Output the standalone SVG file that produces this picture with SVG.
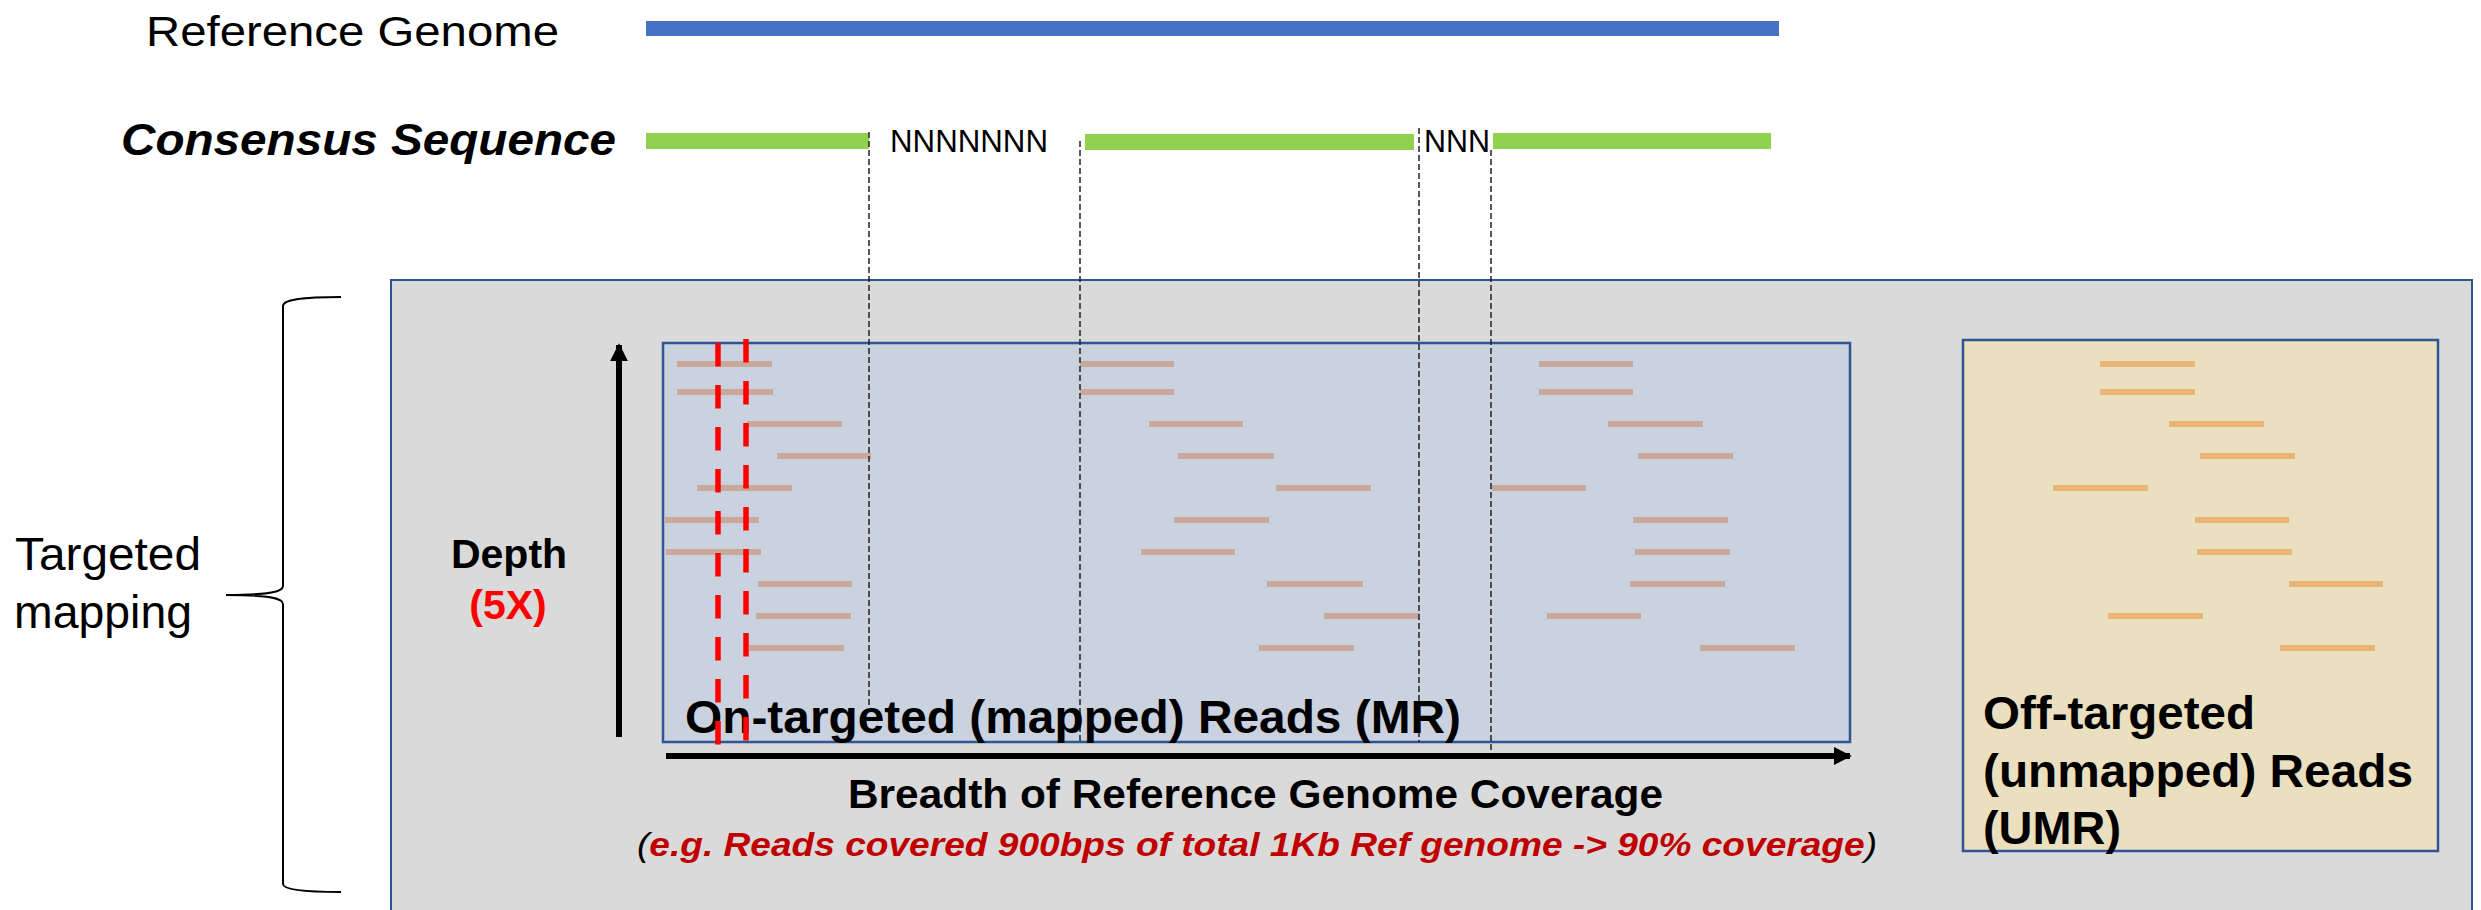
<svg xmlns="http://www.w3.org/2000/svg" width="2481" height="910" viewBox="0 0 2481 910">
<defs>
<style>
.t{font-family:"Liberation Sans",Arial,sans-serif;fill:#000}
.b{font-weight:bold}
.rd{stroke:#C8A99B;stroke-width:6}
.ry{stroke:#E8B478;stroke-width:6}
.dl{stroke:#222;stroke-width:1.5;stroke-dasharray:6 3;fill:none}
.rdash{stroke:#FF0000;stroke-width:5.5;stroke-dasharray:23.5 18.5;fill:none}
</style>
<marker id="ah" viewBox="0 0 10 10" refX="9" refY="5" markerWidth="3" markerHeight="3" orient="auto" markerUnits="strokeWidth">
<path d="M0,0 L10,5 L0,10 Z" fill="#000"/>
</marker>
</defs>
<rect x="0" y="0" width="2481" height="910" fill="#FFFFFF"/>

<g id="reference-genome">
<text class="t" x="146" y="46" font-size="43" textLength="413" lengthAdjust="spacingAndGlyphs">Reference Genome</text>
<rect x="646" y="21" width="1133" height="15" fill="#4472C4"/>
</g>

<g id="consensus-sequence">
<text class="t b" x="121" y="155" font-size="45" font-style="italic" textLength="495" lengthAdjust="spacingAndGlyphs">Consensus Sequence</text>
<rect x="646" y="133" width="223" height="16" fill="#92D050"/>
<rect x="1085" y="134" width="329" height="16" fill="#92D050"/>
<rect x="1493" y="133" width="278" height="16" fill="#92D050"/>
<text class="t" x="890" y="152" font-size="31" textLength="158" lengthAdjust="spacingAndGlyphs">NNNNNNN</text>
<text class="t" x="1424" y="152" font-size="31" textLength="66" lengthAdjust="spacingAndGlyphs">NNN</text>
</g>

<g id="targeted-mapping-label">
<path d="M341,297 C300,297 283,300 283,306 L283,586 C283,592 268,595 226,595 C268,595 283,598 283,604 L283,884 C283,889 300,892 341,892" fill="none" stroke="#000" stroke-width="2"/>
<text class="t" x="15" y="570" font-size="46" textLength="186" lengthAdjust="spacingAndGlyphs">Targeted</text>
<text class="t" x="14" y="628" font-size="46" textLength="178" lengthAdjust="spacingAndGlyphs">mapping</text>
</g>

<g id="mapping-panel">
<rect x="391" y="280" width="2081" height="640" fill="#DADADA" stroke="#2F5597" stroke-width="2"/>
</g>

<g id="mapped-reads">
<rect x="663" y="343" width="1187" height="399" fill="#CAD2DF" stroke="#2F5597" stroke-width="2.5"/>
<line class="rd" x1="677" y1="364" x2="772" y2="364"/>
<line class="rd" x1="677" y1="392" x2="773" y2="392"/>
<line class="rd" x1="747" y1="424" x2="842" y2="424"/>
<line class="rd" x1="777" y1="456" x2="871" y2="456"/>
<line class="rd" x1="697" y1="488" x2="792" y2="488"/>
<line class="rd" x1="665" y1="520" x2="759" y2="520"/>
<line class="rd" x1="666" y1="552" x2="761" y2="552"/>
<line class="rd" x1="758" y1="584" x2="852" y2="584"/>
<line class="rd" x1="756" y1="616" x2="851" y2="616"/>
<line class="rd" x1="749" y1="648" x2="844" y2="648"/>
<line class="rd" x1="1080" y1="364" x2="1174" y2="364"/>
<line class="rd" x1="1080" y1="392" x2="1174" y2="392"/>
<line class="rd" x1="1149" y1="424" x2="1243" y2="424"/>
<line class="rd" x1="1178" y1="456" x2="1274" y2="456"/>
<line class="rd" x1="1276" y1="488" x2="1371" y2="488"/>
<line class="rd" x1="1174" y1="520" x2="1269" y2="520"/>
<line class="rd" x1="1141" y1="552" x2="1235" y2="552"/>
<line class="rd" x1="1267" y1="584" x2="1363" y2="584"/>
<line class="rd" x1="1324" y1="616" x2="1419" y2="616"/>
<line class="rd" x1="1259" y1="648" x2="1354" y2="648"/>
<line class="rd" x1="1539" y1="364" x2="1633" y2="364"/>
<line class="rd" x1="1539" y1="392" x2="1633" y2="392"/>
<line class="rd" x1="1608" y1="424" x2="1703" y2="424"/>
<line class="rd" x1="1638" y1="456" x2="1733" y2="456"/>
<line class="rd" x1="1492" y1="488" x2="1586" y2="488"/>
<line class="rd" x1="1633" y1="520" x2="1728" y2="520"/>
<line class="rd" x1="1635" y1="552" x2="1730" y2="552"/>
<line class="rd" x1="1630" y1="584" x2="1725" y2="584"/>
<line class="rd" x1="1547" y1="616" x2="1641" y2="616"/>
<line class="rd" x1="1700" y1="648" x2="1795" y2="648"/>
</g>

<g id="connectors">
<line class="dl" x1="869" y1="132" x2="869" y2="708"/>
<line class="dl" x1="1080" y1="141" x2="1080" y2="742"/>
<line class="dl" x1="1419" y1="128" x2="1419" y2="742"/>
<line class="dl" x1="1491" y1="150" x2="1491" y2="753"/>
<line x1="619" y1="737" x2="619" y2="345" stroke="#000" stroke-width="6" marker-end="url(#ah)"/>
<line x1="666" y1="756" x2="1850" y2="756" stroke="#000" stroke-width="6" marker-end="url(#ah)"/>
</g>

<g id="mapped-label">
<text class="t b" x="685" y="733" font-size="47" textLength="776" lengthAdjust="spacingAndGlyphs">On-targeted (mapped) Reads (MR)</text>
</g>

<g id="depth-window">
<line class="rdash" x1="718" y1="343" x2="718" y2="745"/>
<line class="rdash" x1="746" y1="339" x2="746" y2="742"/>
</g>

<g id="depth-label">
<text class="t b" x="509" y="568" font-size="41" text-anchor="middle">Depth</text>
<text class="t b" x="508" y="619" font-size="41" text-anchor="middle" style="fill:#FF0000">(5X)</text>
</g>

<g id="breadth-label">
<text class="t b" x="848" y="808" font-size="40" textLength="815" lengthAdjust="spacingAndGlyphs">Breadth of Reference Genome Coverage</text>
<text class="t" x="637" y="856" font-size="34" font-style="italic" textLength="1240" lengthAdjust="spacingAndGlyphs">(<tspan font-weight="bold" style="fill:#C00000">e.g. Reads covered 900bps of total 1Kb Ref genome -&gt; 90% coverage</tspan>)</text>
</g>

<g id="unmapped-reads">
<rect x="1963" y="340" width="475" height="511" fill="#EADFBE" stroke="#2F5597" stroke-width="2.5"/>
<line class="ry" x1="2100" y1="364" x2="2195" y2="364"/>
<line class="ry" x1="2100" y1="392" x2="2195" y2="392"/>
<line class="ry" x1="2169" y1="424" x2="2264" y2="424"/>
<line class="ry" x1="2200" y1="456" x2="2295" y2="456"/>
<line class="ry" x1="2053" y1="488" x2="2148" y2="488"/>
<line class="ry" x1="2195" y1="520" x2="2289" y2="520"/>
<line class="ry" x1="2197" y1="552" x2="2292" y2="552"/>
<line class="ry" x1="2289" y1="584" x2="2383" y2="584"/>
<line class="ry" x1="2108" y1="616" x2="2203" y2="616"/>
<line class="ry" x1="2280" y1="648" x2="2375" y2="648"/>
<text class="t b" x="1983" y="729" font-size="47" textLength="272" lengthAdjust="spacingAndGlyphs">Off-targeted</text>
<text class="t b" x="1983" y="787" font-size="47" textLength="430" lengthAdjust="spacingAndGlyphs">(unmapped) Reads</text>
<text class="t b" x="1983" y="844" font-size="47" textLength="138" lengthAdjust="spacingAndGlyphs">(UMR)</text>
</g>
</svg>
